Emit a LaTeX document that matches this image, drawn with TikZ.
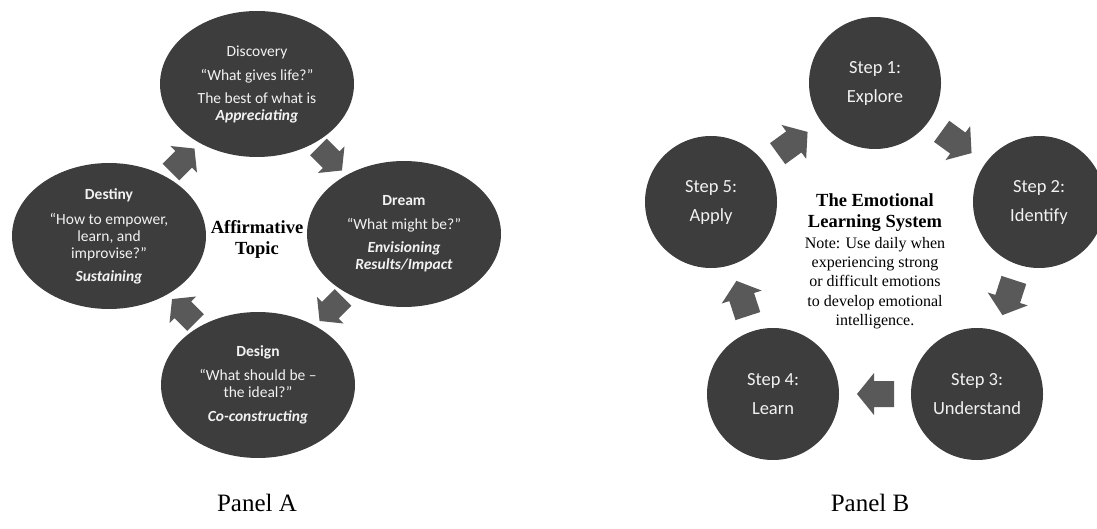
\documentclass[tikz,border=0pt]{standalone}
\usepackage{fontspec}
\setmainfont{Liberation Serif}
\newfontfamily\calibri{Carlito}
\usetikzlibrary{calc,shapes.geometric}
\definecolor{discfill}{HTML}{3D3D3D}
\definecolor{arrowfill}{HTML}{595959}
\definecolor{disctext}{HTML}{F2F2F2}
\begin{document}
\begin{tikzpicture}[x=1pt,y=-1pt,
  stage/.style={ellipse, fill=discfill, inner sep=0pt, minimum width=194pt,
    minimum height=146pt, text=disctext, align=center,
    font=\calibri\fontsize{15.5}{17}\selectfont},
  stepcircle/.style={circle, fill=discfill, inner sep=0pt, minimum size=132pt,
    text=disctext, align=center, font=\calibri\fontsize{18.5}{29}\selectfont},
  hub/.style={align=center, inner sep=0pt, font=\bfseries\fontsize{18.5}{21}\selectfont},
  notetext/.style={align=center, inner sep=0pt, font=\fontsize{16}{19.25}\selectfont},
  panel/.style={anchor=base, inner sep=0pt, font=\fontsize{25}{30}\selectfont},
  blockarrow/.pic={\fill[arrowfill] (-19,-13) -- (1,-13) -- (1,-21) -- (18,0)
    -- (1,21) -- (1,13) -- (-19,13) -- cycle;}
]
\clip (0,0) rectangle (1097,529);
\fill[white] (0,0) rectangle (1097,529);

% ---- Panel A: appreciative inquiry cycle ----
\node[stage] (discovery) at (257,84)
  {Discovery\\[7pt]“What gives life?”\\[6pt]The best of what is\\\textbf{\textit{Appreciating}}};
\node[stage] (dream) at (404,234)
  {\textbf{Dream}\\[7pt]“What might be?”\\[6pt]\textbf{\textit{Envisioning}}\\\textbf{\textit{Results/Impact}}};
\node[stage] (design) at (258,385)
  {\textbf{Design}\\[7pt]“What should be –\\the ideal?”\\[7pt]\textbf{\textit{Co-constructing}}};
\node[stage] (destiny) at (109,236)
  {\textbf{Destiny}\\[8pt]“How to empower,\\learn, and\\improvise?”\\[6pt]\textbf{\textit{Sustaining}}};
\node[hub] (atopic) at (257,239) {Affirmative\\Topic};

\pic[rotate=45, scale=0.9] at ($(destiny)!0.5!(discovery)$) {blockarrow};
\pic[rotate=-45, scale=0.9] at ($(discovery)!0.5!(dream)$) {blockarrow};
\pic[rotate=-135, scale=0.9] at ($(dream)!0.5!(design)$) {blockarrow};
\pic[rotate=135, scale=0.9] at ($(design)!0.5!(destiny)$) {blockarrow};

\node[panel] (labelA) at (257,511) {Panel A};

% ---- Panel B: emotional learning system ----
\node[stepcircle] (s1) at (875,83) {Step 1:\\Explore};
\node[stepcircle] (s2) at (1039,202) {Step 2:\\Identify};
\node[stepcircle] (s3) at (977,394) {Step 3:\\Understand};
\node[stepcircle] (s4) at (773,394) {Step 4:\\Learn};
\node[stepcircle] (s5) at (711,202) {Step 5:\\Apply};

\pic[rotate=36] at ($(s5)!0.5!(s1)$) {blockarrow};
\pic[rotate=-36] at ($(s1)!0.5!(s2)$) {blockarrow};
\pic[rotate=-108] at ($(s2)!0.5!(s3)$) {blockarrow};
\pic[rotate=180] at ($(s3)!0.5!(s4)$) {blockarrow};
\pic[rotate=108] at ($(s4)!0.5!(s5)$) {blockarrow};

\node[hub] (btitle) at (875,213) {The Emotional\\Learning System};
\node[notetext] (bnote) at (875,283)
  {Note: Use daily when\\experiencing strong\\or difficult emotions\\to develop emotional\\intelligence.};

\node[panel] (labelB) at (870,511) {Panel B};
\end{tikzpicture}
\end{document}
